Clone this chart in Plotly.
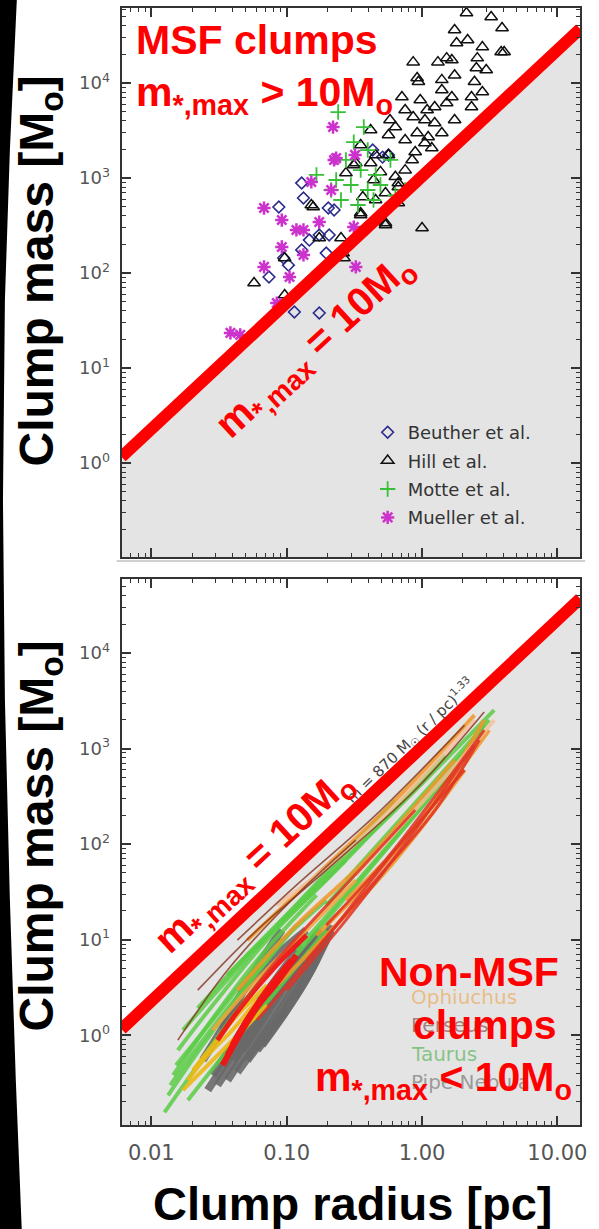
import plotly.graph_objects as go

W, H = 599, 1229

# ---------------- data ----------------
# threshold line  m = A * (r/pc)^k   (m*,max = 10 Msun)
THRESH_A = 1040.0
THRESH_K = 1.33

# axis ranges (log10)
X_RANGE = [-2.22, 1.168]
Y_RANGE_TOP = [-0.99, 4.79]
Y_RANGE_BOT = [-0.94, 4.775]

x_tickvals = [0.01, 0.1, 1, 10]
x_ticktext = ["0.01", "0.10", "1.00", "10.00"]
y_tickvals = [1, 10, 100, 1000, 10000]
y_ticktext = ["10<sup>0</sup>", "10<sup>1</sup>", "10<sup>2</sup>", "10<sup>3</sup>", "10<sup>4</sup>"]

# top panel: massive star forming clumps
beuther_r = [0.129, 0.0875, 0.133, 0.203, 0.224, 0.206, 0.147, 0.129, 0.095, 0.103, 0.074, 0.114,
             0.174, 0.196, 0.432, 0.565, 0.511, 0.174]
beuther_m = [885, 495, 616, 483, 460, 251, 222, 175, 144, 121, 90.8, 38.9,
             37.9, 162, 1970, 1750, 1660, 251]

hill_r = [2.13, 3.24, 3.90, 1.74, 2.17, 1.80, 2.79, 3.84, 4.04, 0.86, 1.31, 1.52, 1.66, 2.56, 2.52,
          2.98, 0.92, 0.94, 1.74, 1.40, 2.44, 0.71, 0.97, 1.40, 1.66, 2.32, 2.79, 0.75, 1.09, 1.24,
          1.52, 1.74, 2.32, 0.58, 0.86, 1.05, 1.24, 0.92, 1.11, 1.40, 0.565, 0.635, 0.75, 1.05, 0.89,
          1.18, 0.845, 0.565, 0.454, 0.324, 0.274, 0.417, 0.493, 0.635, 0.75, 0.438, 0.668, 0.537,
          0.365, 0.454, 0.352, 0.668, 0.537, 1.0, 0.261, 0.152, 0.0574, 0.0966, 0.157, 0.252, 0.265,
          0.174, 0.313, 0.352, 0.537, 0.668, 0.0966, 0.417, 0.352]
hill_m = [54600, 49500, 37900, 36100, 28400, 26400, 23900, 21200, 21200, 16600, 16600, 18300, 17500,
          18300, 14400, 13700, 11300, 10300, 12100, 10800, 10300, 7120, 6620, 8440, 7120, 7120, 8040,
          5200, 5200, 5590, 6160, 4080, 5590, 4080, 4390, 4080, 3790, 2980, 2700, 2980, 2840, 3440,
          2510, 2340, 1880, 2070, 1550, 1750, 1750, 1440, 1130, 1440, 1160, 1030, 1210, 953, 804, 695,
          631, 587, 428, 546, 336, 298, 162, 520, 78.5, 144, 495, 234, 144, 234, 1370, 408, 320, 885,
          58.7, 3200, 2230]

motte_r = [0.240, 0.371, 0.313, 0.274, 0.352, 0.454, 0.584, 0.232, 0.298, 0.397, 0.493, 0.252,
           0.336, 0.438, 0.635, 0.213, 0.166, 0.537, 0.75, 0.397]
motte_m = [4950, 3440, 2390, 1550, 1210, 1080, 1550, 953, 844, 748, 844, 587,
           520, 587, 662, 748, 1080, 460, 748, 1970]

mueller_r = [0.068, 0.092, 0.152, 0.224, 0.213, 0.118, 0.133, 0.174, 0.092, 0.133, 0.068, 0.105,
             0.0845, 0.0384, 0.0454, 0.324, 0.313, 0.32, 0.220, 0.232]
mueller_m = [483, 361, 908, 1550, 748, 284, 284, 344, 188, 155, 116, 90.8,
             48.3, 23.4, 22.3, 116, 305, 1750, 3440, 1620]

# bottom panel: dendrogram mass-size tracks of nearby clouds
taurus_r = [
    [0.0125, 0.0220, 0.0432, 0.0845],
    [0.0133, 0.0240, 0.0511, 0.118],
    [0.0145, 0.0261, 0.0604, 0.166],
    [0.0157, 0.0284, 0.0715, 0.274],
    [0.0171, 0.0336, 0.100, 0.635],
    [0.0186, 0.0365, 0.0845, 0.196],
    [0.0220, 0.0511, 0.196, 1.47],
    [0.0365, 0.118, 0.635, 3.41],
    [0.0604, 0.196, 0.889, 2.44],
    [0.118, 0.454, 1.25, 2.88],
    [0.0138, 0.0240, 0.0470, 0.100],
    [0.0152, 0.0284, 0.0657, 0.196],
    [0.274, 0.635, 1.47, 3.13],
    [0.196, 0.537, 1.35, 2.88],
]
taurus_m = [
    [0.156, 0.485, 1.83, 6.10],
    [0.235, 0.786, 3.34, 14.2],
    [0.381, 1.27, 6.10, 29.2],
    [0.697, 2.06, 9.88, 68.0],
    [1.13, 3.34, 18.1, 289],
    [0.209, 0.697, 2.96, 12.6],
    [1.92, 6.88, 42.0, 855],
    [4.25, 23.0, 227, 2530],
    [2.33, 16.0, 201, 1090],
    [7.76, 68.0, 368, 1760],
    [0.300, 0.887, 2.96, 11.1],
    [0.485, 1.44, 6.10, 25.9],
    [42.0, 158, 596, 1990],
    [23.0, 110, 468, 1560],
]

ophiuchus_r = [
    [0.0186, 0.0261, 0.0397, 0.0604],
    [0.0203, 0.0284, 0.0432, 0.0715],
    [0.0171, 0.0261, 0.0432, 0.0715],
    [0.0432, 0.118, 0.384, 1.74],
    [0.0845, 0.196, 0.635, 2.06],
    [0.166, 0.384, 1.05, 2.88],
    [0.0511, 0.166, 0.635, 2.44],
    [0.274, 0.635, 1.47, 3.13],
    [0.0845, 0.232, 0.752, 2.44],
    [0.324, 0.889, 2.06, 3.41],
    [0.0284, 0.0511, 0.118, 0.324],
]
ophiuchus_m = [
    [0.338, 0.618, 1.13, 2.33],
    [0.430, 0.786, 1.62, 3.34],
    [0.266, 0.485, 1.0, 2.06],
    [2.96, 14.2, 68.0, 758],
    [3.34, 11.1, 68.0, 596],
    [11.1, 37.2, 201, 1990],
    [9.88, 47.3, 289, 2240],
    [25.9, 86.5, 368, 1560],
    [23.0, 68.0, 326, 1990],
    [47.3, 227, 855, 1990],
    [1.13, 2.96, 9.88, 42.0],
]

perseus_r = [
    [0.0336, 0.0470, 0.0657, 0.0920],
    [0.0365, 0.0511, 0.0715, 0.109],
    [0.0397, 0.0556, 0.0817, 0.118],
    [0.0308, 0.0470, 0.0778, 0.140],
    [0.0604, 0.166, 0.635, 2.06],
    [0.100, 0.274, 0.889, 2.44],
    [0.140, 0.454, 1.25, 2.65],
    [0.196, 0.537, 1.35, 2.88],
    [0.0432, 0.0845, 0.232, 0.889],
    [0.0157, 0.0365, 0.118, 0.324],
    [0.0220, 0.0604, 0.196, 0.889, 2.88],
    [0.0432, 0.118, 0.454, 2.06],
]
perseus_m = [
    [0.485, 1.13, 2.33, 4.25],
    [0.618, 1.44, 2.96, 6.10],
    [0.786, 1.74, 3.34, 6.88],
    [0.887, 2.06, 4.79, 11.1],
    [1.44, 7.76, 86.5, 596],
    [2.96, 16.0, 140, 1090],
    [6.10, 42.0, 227, 1230],
    [14.2, 68.0, 368, 1560],
    [1.83, 6.10, 29.2, 227],
    [0.887, 4.79, 29.2, 110],
    [2.96, 12.6, 53.4, 368, 2410],
    [9.88, 37.2, 201, 1760],
]

pipe_r = [
    [0.0261, 0.0432, 0.0715, 0.118],
    [0.0308, 0.0511, 0.0845, 0.140],
    [0.0365, 0.0604, 0.100, 0.166],
    [0.0432, 0.0715, 0.118, 0.196],
    [0.0511, 0.0845, 0.140, 0.213],
    [0.0604, 0.100, 0.152, 0.213],
    [0.0284, 0.0470, 0.0778, 0.129],
    [0.0397, 0.0657, 0.109, 0.180],
    [0.0470, 0.0778, 0.118, 0.166],
    [0.0657, 0.100, 0.145, 0.196],
    [0.0336, 0.0511, 0.0845, 0.140],
    [0.0240, 0.0365, 0.0556, 0.092],
]
pipe_m = [
    [0.266, 0.786, 2.33, 6.10],
    [0.300, 0.887, 2.62, 6.88],
    [0.338, 1.0, 2.96, 8.75],
    [0.410, 1.13, 3.34, 11.1],
    [0.547, 1.44, 4.25, 12.6],
    [0.697, 1.83, 4.79, 14.2],
    [0.381, 1.13, 3.34, 8.75],
    [0.547, 1.62, 4.79, 12.6],
    [0.697, 2.06, 5.41, 11.1],
    [0.786, 1.83, 4.25, 9.88],
    [1.13, 3.34, 6.88, 12.6],
    [0.547, 1.44, 4.25, 12.6],
]

cloud_names = ["Pipe Nebula", "Taurus", "Ophiuchus", "Perseus"]

# ---------------- styles ----------------
RED = "#ff0000"
GREY_FILL = "#e4e4e4"
FONT_BOLD = "Liberation Sans, Arial, sans-serif"
FONT_THIN = "DejaVu Sans, sans-serif"

cloud_style = {
    "Pipe Nebula": dict(color="rgba(105,105,105,0.9)", width=8),
    "Taurus": dict(color="rgba(90,205,70,0.85)", width=4),
    "Ophiuchus": dict(color="rgba(240,165,40,0.85)", width=4),
}
ophiuchus_colors = ["rgba(235,185,20,0.9)"] * 3 + ["rgba(240,150,40,0.85)"] * 5 + \
                   ["rgba(245,190,150,0.8)"] * 2 + ["rgba(240,165,60,0.85)"]
perseus_widths = [6, 6, 6, 5, 3, 3, 3, 3, 3, 1.6, 1.6, 1.6]
perseus_colors = ["rgba(240,20,20,0.95)"] * 4 + ["rgba(225,50,35,0.85)"] * 5 + ["rgba(130,50,30,0.8)"] * 3


def px(x):
    return x / W


def py(y):
    return 1 - y / H


fig = go.Figure()


def thresh(r):
    return THRESH_A * r ** THRESH_K


xlo, xhi = 10 ** X_RANGE[0], 10 ** X_RANGE[1]
for xa, ya, yr in (("x", "y", Y_RANGE_TOP), ("x2", "y2", Y_RANGE_BOT)):
    ylo = 10 ** (yr[0] - 0.5)
    fig.add_trace(go.Scatter(
        x=[xlo, xhi, xhi, xlo, xlo], y=[thresh(xlo), thresh(xhi), ylo, ylo, thresh(xlo)],
        mode="lines", fill="toself", fillcolor=GREY_FILL, line=dict(width=0),
        xaxis=xa, yaxis=ya, showlegend=False, hoverinfo="skip"))

# top scatter
top_sets = [
    ("Beuther et al.", beuther_r, beuther_m, dict(symbol="diamond-open", size=9, color="#2b2b8c", line=dict(width=1.6, color="#2b2b8c"))),
    ("Hill et al.", hill_r, hill_m, dict(symbol="triangle-up-open", size=11, color="#111111", line=dict(width=1.5, color="#111111"))),
    ("Motte et al.", motte_r, motte_m, dict(symbol="cross-thin-open", size=11, color="#38c038", line=dict(width=1.8, color="#38c038"))),
    ("Mueller et al.", mueller_r, mueller_m, dict(symbol="asterisk-open", size=11, color="#cc33cc", line=dict(width=2.5, color="#cc33cc"))),
]
for name, rr, mm, mk in top_sets:
    fig.add_trace(go.Scatter(x=rr, y=mm, mode="markers", marker=mk, name=name,
                             legendgroup=name, xaxis="x", yaxis="y"))

# bottom tracks
cloud_data = {
    "Pipe Nebula": (pipe_r, pipe_m),
    "Taurus": (taurus_r, taurus_m),
    "Ophiuchus": (ophiuchus_r, ophiuchus_m),
    "Perseus": (perseus_r, perseus_m),
}
for cname in cloud_names:
    rs, ms = cloud_data[cname]
    for i, (rr, mm) in enumerate(zip(rs, ms)):
        if cname == "Perseus":
            st = dict(color=perseus_colors[i], width=perseus_widths[i])
        elif cname == "Ophiuchus":
            st = dict(color=ophiuchus_colors[i], width=cloud_style[cname]["width"])
        else:
            st = dict(cloud_style[cname])
        fig.add_trace(go.Scatter(x=rr, y=mm, mode="lines", line=dict(shape="spline", **st),
                                 xaxis="x2", yaxis="y2", showlegend=False, hoverinfo="skip"))

# red threshold lines on top
for xa, ya in (("x", "y"), ("x2", "y2")):
    fig.add_trace(go.Scatter(x=[xlo, xhi], y=[thresh(xlo), thresh(xhi)], mode="lines",
                             line=dict(color=RED, width=12), xaxis=xa, yaxis=ya,
                             showlegend=False, hoverinfo="skip"))

minor_x = [k * 10 ** e for e in range(-3, 2) for k in range(2, 10)]
minor_y = [k * 10 ** e for e in range(-2, 5) for k in range(2, 10)]


def xaxis(domain_y_anchor, labels):
    return dict(type="log", range=X_RANGE, domain=[px(123), px(587)], anchor=domain_y_anchor,
                showgrid=False, zeroline=False, showline=True, linecolor="#333", linewidth=2,
                mirror="allticks", ticks="inside", ticklen=9, tickwidth=1.5, tickcolor="#333",
                tickvals=x_tickvals, ticktext=x_ticktext, showticklabels=labels,
                tickfont=dict(family=FONT_THIN, size=21, color="#555"), ticklabelstandoff=8,
                minor=dict(ticks="inside", ticklen=4, tickwidth=1, tickcolor="#333",
                           tickvals=minor_x, showgrid=False))


def yaxis(rng, dom, anchor):
    return dict(type="log", range=rng, domain=dom, anchor=anchor,
                showgrid=False, zeroline=False, showline=True, linecolor="#333", linewidth=2,
                mirror="allticks", ticks="inside", ticklen=9, tickwidth=1.5, tickcolor="#333",
                tickvals=y_tickvals, ticktext=y_ticktext,
                tickfont=dict(family=FONT_THIN, size=18, color="#555"), ticklabelstandoff=6,
                minor=dict(ticks="inside", ticklen=4, tickwidth=1, tickcolor="#333",
                           tickvals=minor_y, showgrid=False))


ann = []


def red_text(text, x, y, size, xanchor="center", angle=0, yanchor="middle"):
    ann.append(dict(text=text, x=px(x), y=py(y), xref="paper", yref="paper", showarrow=False,
                    xanchor=xanchor, yanchor=yanchor, textangle=angle,
                    font=dict(family=FONT_BOLD, size=size, color=RED, weight="bold")))


# bottom panel legend (coloured names)
legend_cols = {"Ophiuchus": "rgba(235,175,100,0.75)", "Perseus": "rgba(140,80,80,0.7)",
               "Taurus": "rgba(90,180,90,0.7)", "Pipe Nebula": "rgba(120,120,120,0.7)"}
for nm, yy in (("Ophiuchus", 997), ("Perseus", 1025), ("Taurus", 1054), ("Pipe Nebula", 1082)):
    ann.append(dict(text=nm, x=px(414), y=py(yy), xref="paper", yref="paper", showarrow=False,
                    xanchor="left", yanchor="middle",
                    font=dict(family=FONT_THIN, size=20, color=legend_cols[nm])))

ann.append(dict(text="m = 870 M<sub>☉</sub> (r / pc)<sup>1.33</sup>", x=px(414), y=py(740),
                xref="paper", yref="paper", showarrow=False, textangle=-44,
                xanchor="center", yanchor="middle",
                font=dict(family=FONT_THIN, size=15, color="#444")))

# axis titles
for yy in (271, 836):
    ann.append(dict(text="Clump mass [M<sub>o</sub>]", x=px(40), y=py(yy), xref="paper", yref="paper",
                    showarrow=False, textangle=-90, xanchor="center", yanchor="middle",
                    font=dict(family=FONT_BOLD, size=48, color="black", weight="bold")))
ann.append(dict(text="Clump radius [pc]", x=px(357), y=py(1203), xref="paper", yref="paper",
                showarrow=False, xanchor="center", yanchor="middle",
                font=dict(family=FONT_BOLD, size=47, color="black", weight="bold")))

red_text("MSF clumps", 136, 40, 41, xanchor="left")
red_text("m<sub>*,max</sub> > 10M<sub>o</sub>", 136, 95, 41, xanchor="left")
red_text("m<sub>*,max</sub> = 10M<sub>o</sub>", 319, 347, 40, angle=-42.6)
red_text("m<sub>*,max</sub> = 10M<sub>o</sub>", 258, 862, 40, angle=-42.6)
red_text("Non-MSF", 568, 972, 41, xanchor="right")
red_text("clumps", 566, 1025, 41, xanchor="right")
red_text("m<sub>*,max</sub> < 10M<sub>o</sub>", 581, 1080, 41, xanchor="right")

# decorative slide edge (black curved stripe) and panel separator
edge_pts = [(0, 0), (17, 0), (10, 150), (5, 300), (3, 500), (5, 700), (10, 900), (16, 1080), (22, 1229), (0, 1229)]
path = "M " + " L ".join(f"{px(a):.4f},{py(b):.4f}" for a, b in edge_pts) + " Z"
shapes = [
    dict(type="path", path=path, xref="paper", yref="paper", fillcolor="black", line=dict(width=0), layer="above"),
    dict(type="line", x0=px(118), x1=px(592), y0=py(561), y1=py(561), xref="paper", yref="paper",
         line=dict(color="#d0d0d0", width=2)),
]

fig.update_layout(
    width=W, height=H, margin=dict(l=0, r=0, t=0, b=0),
    paper_bgcolor="white", plot_bgcolor="white",
    xaxis=xaxis("y", False),
    yaxis=yaxis(Y_RANGE_TOP, [py(557), py(8)], "x"),
    xaxis2=xaxis("y2", True),
    yaxis2=yaxis(Y_RANGE_BOT, [py(1125), py(579)], "x2"),
    annotations=ann, shapes=shapes,
    showlegend=True,
    legend=dict(x=px(372), y=py(414), xanchor="left", yanchor="top", bgcolor="rgba(0,0,0,0)",
                font=dict(family=FONT_THIN, size=18, color="#333"), tracegroupgap=2,
                itemwidth=30),
)

fig.write_html("out.html")
